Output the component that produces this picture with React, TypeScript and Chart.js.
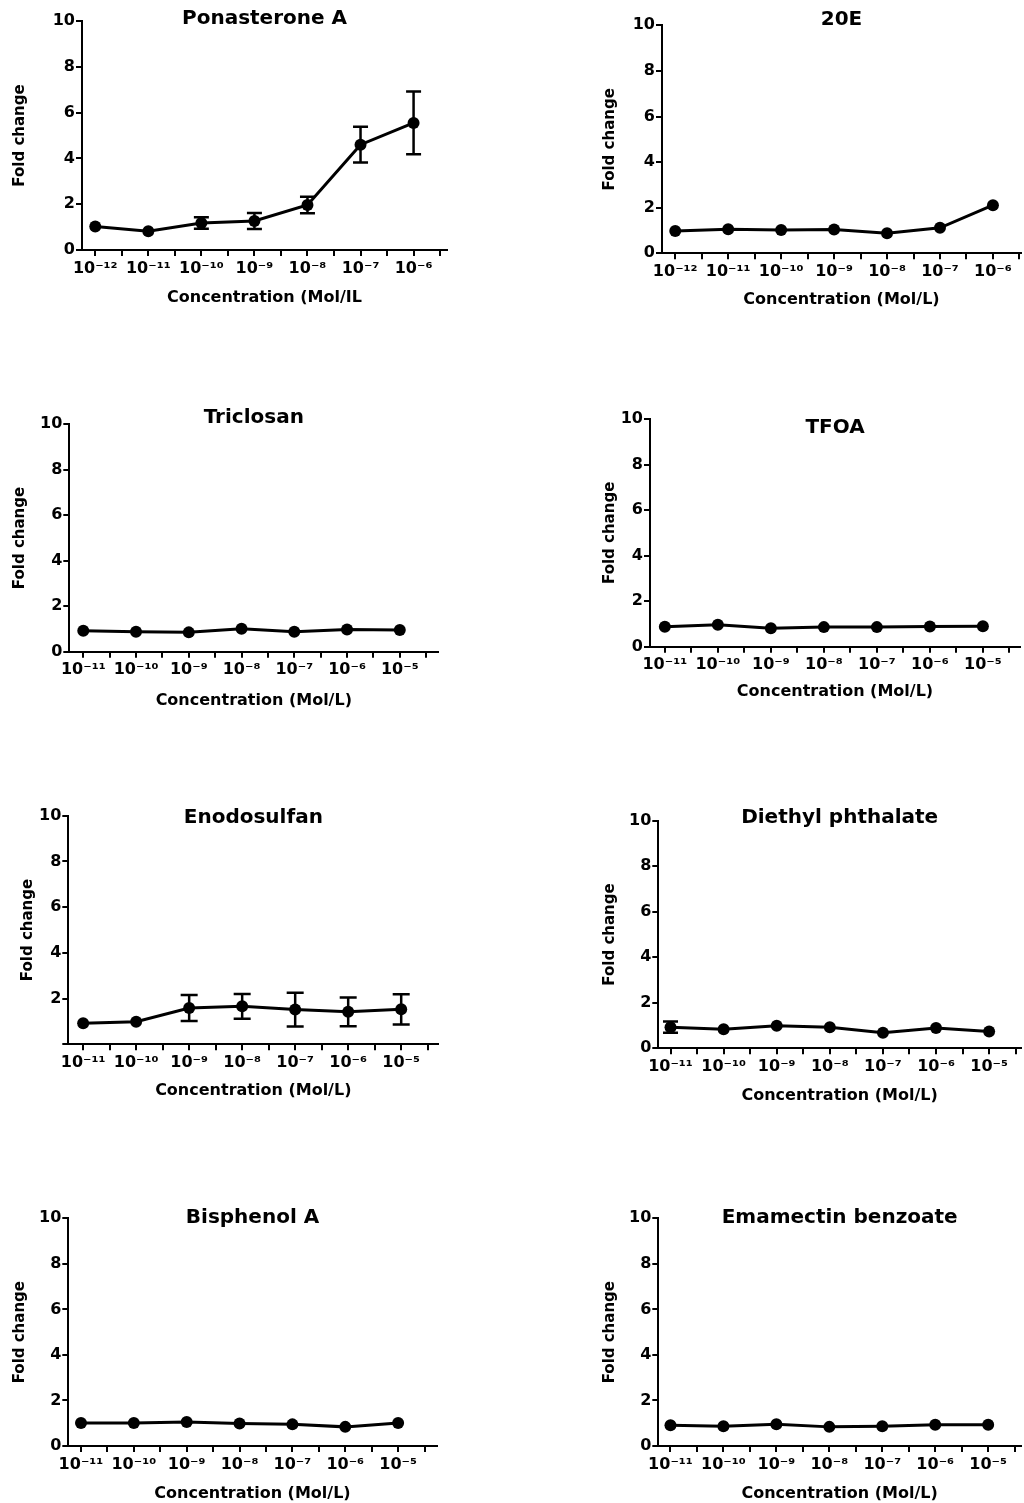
import React, { useEffect, useRef } from "react";
import { Chart, registerables } from "chart.js";
Chart.register(...registerables);

// ---------- data ----------
const expA = [-12, -11, -10, -9, -8, -7, -6];
const expB = [-11, -10, -9, -8, -7, -6, -5];
const labelsA = ["10⁻¹²", "10⁻¹¹", "10⁻¹⁰", "10⁻⁹", "10⁻⁸", "10⁻⁷", "10⁻⁶"];
const labelsB = ["10⁻¹¹", "10⁻¹⁰", "10⁻⁹", "10⁻⁸", "10⁻⁷", "10⁻⁶", "10⁻⁵"];
const yTicks = [0, 2, 4, 6, 8, 10];

const ponasteroneMean = [1.03, 0.82, 1.18, 1.27, 1.97, 4.6, 5.55];
const ponasteroneErr = [0, 0, 0.25, 0.35, 0.36, 0.78, 1.37];
const e20Mean = [0.98, 1.05, 1.02, 1.04, 0.88, 1.12, 2.11];
const e20Err = [0, 0, 0, 0, 0, 0, 0];
const triclosanMean = [0.92, 0.88, 0.85, 1.01, 0.88, 0.98, 0.95];
const triclosanErr = [0, 0, 0, 0, 0, 0, 0];
const tfoaMean = [0.88, 0.96, 0.81, 0.86, 0.86, 0.89, 0.9];
const tfoaErr = [0, 0, 0, 0, 0, 0, 0];
const enodosulfanMean = [0.92, 0.99, 1.59, 1.66, 1.52, 1.42, 1.53];
const enodosulfanErr = [0, 0, 0.57, 0.54, 0.74, 0.63, 0.66];
const diethylMean = [0.93, 0.84, 0.99, 0.92, 0.68, 0.89, 0.74];
const diethylErr = [0.25, 0, 0, 0, 0, 0, 0];
const bisphenolMean = [1.01, 1.01, 1.05, 0.99, 0.95, 0.84, 1.01];
const bisphenolErr = [0, 0, 0, 0, 0, 0, 0];
const emamectinMean = [0.91, 0.87, 0.96, 0.84, 0.87, 0.93, 0.93];
const emamectinErr = [0, 0, 0, 0, 0, 0, 0];

const titles = [
  "Ponasterone A",
  "20E",
  "Triclosan",
  "TFOA",
  "Enodosulfan",
  "Diethyl phthalate",
  "Bisphenol A",
  "Emamectin benzoate",
];
const xTitles = [
  "Concentration (Mol/IL",
  "Concentration (Mol/L)",
  "Concentration (Mol/L)",
  "Concentration (Mol/L)",
  "Concentration (Mol/L)",
  "Concentration (Mol/L)",
  "Concentration (Mol/L)",
  "Concentration (Mol/L)",
];
const yTitle = "Fold change";

// ---------- layout (positions / sizes) ----------
type Layout = {
  cx: number; cy: number; cw: number; ch: number;
  l: number; t: number; r: number; b: number;
  xMin: number; xMax: number;
  W: number; xTitleOff: number; titleDy: number; capHalf: number; hideZero?: boolean;
};

const layouts: Layout[] = [
  { cx: 0, cy: 0, cw: 580, ch: 392, l: 82, t: 21, r: 447, b: 250, xMin: -12.25, xMax: -5.37, W: 71, xTitleOff: 47.5, titleDy: -2, capHalf: 7.5 },
  { cx: 585, cy: 0, cw: 439, ch: 392, l: 662, t: 25.3, r: 1021, b: 253.3, xMin: -12.25, xMax: -5.47, W: 61, xTitleOff: 46.7, titleDy: -5.3, capHalf: 7.5 },
  { cx: 0, cy: 395, cw: 580, ch: 388, l: 69.3, t: 424.3, r: 438.3, b: 651.7, xMin: -11.265, xMax: -4.27, W: 58, xTitleOff: 49, titleDy: -6.8, capHalf: 7.5 },
  { cx: 585, cy: 395, cw: 439, ch: 388, l: 650, t: 419, r: 1020, b: 646.7, xMin: -11.28, xMax: -4.3, W: 49, xTitleOff: 45.5, titleDy: 9, capHalf: 7.5 },
  { cx: 0, cy: 785, cw: 580, ch: 398, l: 68.3, t: 815.7, r: 438.3, b: 1044.3, xMin: -11.28, xMax: -4.3, W: 49, xTitleOff: 46.5, titleDy: 2.3, capHalf: 8.5, hideZero: true },
  { cx: 585, cy: 785, cw: 439, ch: 398, l: 658.3, t: 820.7, r: 1021, b: 1048.3, xMin: -11.23, xMax: -4.4, W: 57, xTitleOff: 47.5, titleDy: -3.2, capHalf: 7.5 },
  { cx: 0, cy: 1185, cw: 580, ch: 318, l: 68.3, t: 1218.3, r: 436.7, b: 1446, xMin: -11.24, xMax: -4.27, W: 57, xTitleOff: 48, titleDy: -0.5, capHalf: 7.5 },
  { cx: 585, cy: 1185, cw: 439, ch: 318, l: 658.3, t: 1218.3, r: 1021, b: 1446, xMin: -11.23, xMax: -4.38, W: 57, xTitleOff: 48, titleDy: -0.8, capHalf: 7.5 },
];

const panelData = [
  { exps: expA, labels: labelsA, mean: ponasteroneMean, err: ponasteroneErr },
  { exps: expA, labels: labelsA, mean: e20Mean, err: e20Err },
  { exps: expB, labels: labelsB, mean: triclosanMean, err: triclosanErr },
  { exps: expB, labels: labelsB, mean: tfoaMean, err: tfoaErr },
  { exps: expB, labels: labelsB, mean: enodosulfanMean, err: enodosulfanErr },
  { exps: expB, labels: labelsB, mean: diethylMean, err: diethylErr },
  { exps: expB, labels: labelsB, mean: bisphenolMean, err: bisphenolErr },
  { exps: expB, labels: labelsB, mean: emamectinMean, err: emamectinErr },
];

const FONT = "'DejaVu Sans', 'Liberation Sans', Arial, sans-serif";
const TITLE_SIZE = 20;
const TITLE_LH = TITLE_SIZE * 1.2;
const XT_SIZE = 16;

const errorBarPlugin = {
  id: "errorBars",
  afterDatasetsDraw(chart: any) {
    const ds: any = chart.data.datasets[0];
    const errs: number[] = ds.errors || [];
    const capHalf: number = ds.capHalf || 7.5;
    const xs = chart.scales.x;
    const ys = chart.scales.y;
    const ctx = chart.ctx;
    ctx.save();
    ctx.strokeStyle = "#000";
    ctx.lineWidth = 2.5;
    ds.data.forEach((p: any, i: number) => {
      const e = errs[i];
      if (!e) return;
      const px = xs.getPixelForValue(p.x);
      const top = ys.getPixelForValue(p.y + e);
      const bot = ys.getPixelForValue(p.y - e);
      ctx.beginPath();
      ctx.moveTo(px, top);
      ctx.lineTo(px, bot);
      ctx.moveTo(px - capHalf, top);
      ctx.lineTo(px + capHalf, top);
      ctx.moveTo(px - capHalf, bot);
      ctx.lineTo(px + capHalf, bot);
      ctx.stroke();
    });
    ctx.restore();
  },
};

function Panel({ idx }: { idx: number }) {
  const ref = useRef<HTMLCanvasElement | null>(null);
  const L = layouts[idx];
  const D = panelData[idx];
  useEffect(() => {
    if (!ref.current) return;
    const H = L.xTitleOff + XT_SIZE / 2;
    const titlePadBottom = -TITLE_LH / 2 - L.titleDy;
    const T = TITLE_LH + titlePadBottom;
    const padding = {
      left: L.l - L.cx - L.W,
      top: L.t - L.cy - T,
      right: L.cx + L.cw - L.r,
      bottom: L.cy + L.ch - L.b - H,
    };
    const tickVals: number[] = [];
    D.exps.forEach((e) => {
      tickVals.push(e);
      tickVals.push(e + 0.5);
    });
    const labelFor = (v: number) => {
      const k = D.exps.indexOf(v);
      return k >= 0 ? D.labels[k] : "";
    };
    const chart = new Chart(ref.current, {
      type: "line",
      data: {
        datasets: [
          {
            data: D.exps.map((x, i) => ({ x, y: D.mean[i] })),
            errors: D.err,
            capHalf: L.capHalf,
            borderColor: "#000",
            backgroundColor: "#000",
            borderWidth: 3,
            pointRadius: 6,
            pointBorderWidth: 0,
            pointBackgroundColor: "#000",
            tension: 0,
            clip: false,
          } as any,
        ],
      },
      options: {
        animation: false,
        responsive: false,
        devicePixelRatio: 1,
        layout: { autoPadding: false, padding },
        plugins: {
          legend: { display: false },
          tooltip: { enabled: false },
          title: {
            display: true,
            text: titles[idx],
            fullSize: false,
            color: "#000",
            font: { family: FONT, size: TITLE_SIZE, weight: "bold", lineHeight: 1.2 },
            padding: { top: 0, bottom: titlePadBottom },
          },
        },
        scales: {
          x: {
            type: "linear",
            min: L.xMin,
            max: L.xMax,
            afterBuildTicks: (s: any) => {
              s.ticks = tickVals.map((v) => ({ value: v }));
            },
            afterFit: (s: any) => {
              s.height = H;
            },
            border: { display: true, color: "#000", width: 2 },
            grid: { drawOnChartArea: false, color: "#000", lineWidth: 2, tickLength: 6 },
            ticks: {
              autoSkip: false,
              maxRotation: 0,
              minRotation: 0,
              padding: 3,
              color: "#000",
              font: { family: FONT, size: 16, weight: "bold" },
              callback: (v: any) => labelFor(Number(v)),
            },
            title: {
              display: true,
              text: xTitles[idx],
              color: "#000",
              font: { family: FONT, size: XT_SIZE, weight: "bold", lineHeight: 1 },
              padding: { top: 0, bottom: 0 },
            },
          },
          y: {
            min: 0,
            max: 10,
            afterBuildTicks: (s: any) => {
              s.ticks = yTicks.map((v) => ({ value: v }));
            },
            afterFit: (s: any) => {
              s.width = L.W;
            },
            border: { display: true, color: "#000", width: 2 },
            grid: { drawOnChartArea: false, color: "#000", lineWidth: 2, tickLength: 6 },
            ticks: {
              padding: 1,
              color: "#000",
              font: { family: FONT, size: 16, weight: "bold" },
              callback: (v: any) => (L.hideZero && Number(v) === 0 ? "" : String(v)),
            },
            title: {
              display: true,
              text: yTitle,
              color: "#000",
              font: { family: FONT, size: 15, weight: "bold", lineHeight: 1.2 },
              padding: { top: 0, bottom: 0 },
            },
          },
        },
      } as any,
      plugins: [errorBarPlugin],
    });
    return () => chart.destroy();
  }, [idx]);
  return (
    <canvas
      ref={ref}
      width={L.cw}
      height={L.ch}
      style={{ position: "absolute", left: L.cx, top: L.cy, width: L.cw, height: L.ch }}
    />
  );
}

export default function App() {
  return (
    <div
      style={{
        position: "absolute",
        left: 0,
        top: 0,
        width: 1024,
        height: 1503,
        overflow: "hidden",
        background: "#fff",
      }}
    >
      {titles.map((_, i) => (
        <Panel key={i} idx={i} />
      ))}
    </div>
  );
}
